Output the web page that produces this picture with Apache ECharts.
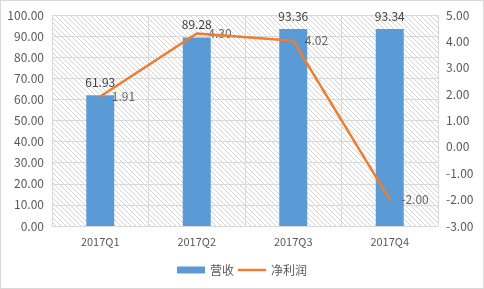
<!DOCTYPE html>
<html><head><meta charset="utf-8">
<script src="https://cdn.jsdelivr.net/npm/echarts@6/dist/echarts.min.js"></script>
<style>html,body{margin:0;padding:0;background:#fff}#c{width:484px;height:289px;box-sizing:border-box;border:1px solid #d9d9d9}</style>
</head><body><div id="c"></div>
<script>
var categories = ['2017Q1','2017Q2','2017Q3','2017Q4'];
var revenue = [61.93, 89.28, 93.36, 93.34];
var netProfit = [1.91, 4.30, 4.02, -2.00];
var seriesNames = ['营收','净利润'];

var pc = document.createElement('canvas');
pc.width = 5; pc.height = 5;
var ctx = pc.getContext('2d');
ctx.fillStyle = '#ffffff'; ctx.fillRect(0,0,5,5);
ctx.strokeStyle = '#d4d4d4'; ctx.lineWidth = 1;
ctx.beginPath();
ctx.moveTo(-5,0); ctx.lineTo(5,10);
ctx.moveTo(0,0); ctx.lineTo(5,5);
ctx.moveTo(0,-5); ctx.lineTo(10,5);
ctx.stroke();

var font = '"Noto Sans CJK SC", "Liberation Sans", sans-serif';
var fmt = function(p){return p.value.toFixed(2);};
var chart = echarts.init(document.getElementById('c'), null, {renderer:'canvas'});
chart.setOption({
  animation: false,
  textStyle: {fontFamily: font},
  grid: {left: 51, right: 45, top: 14, bottom: 62, show: true, backgroundColor: {image: pc, repeat: 'repeat'}, borderWidth: 0},
  legend: {bottom: 7, left: 'center', itemWidth: 28, itemHeight: 7, itemGap: 4, symbolKeepAspect: true,
    textStyle: {color: '#595959', fontSize: 12, fontFamily: font},
    data: [{name: seriesNames[0], icon: 'rect'},
           {name: seriesNames[1], icon: 'path://M0,0 L28,0 L28,2.5 L0,2.5 Z', itemStyle: {color: '#ED7D31'}}]},
  xAxis: {type: 'category', data: categories,
    axisLine: {lineStyle: {color: '#d9d9d9'}}, axisTick: {show: false},
    splitLine: {show: true, lineStyle: {color: '#d9d9d9'}},
    axisLabel: {color: '#595959', fontSize: 11, margin: 10}},
  yAxis: [
    {type: 'value', min: 0, max: 100, interval: 10,
     axisLabel: {color: '#595959', fontSize: 12, formatter: function(v){return v.toFixed(2);}, margin: 8},
     axisLine: {show: false}, axisTick: {show: false},
     splitLine: {lineStyle: {color: '#d9d9d9'}}},
    {type: 'value', min: -3, max: 5, interval: 1,
     axisLabel: {color: '#595959', fontSize: 12, formatter: function(v){return v.toFixed(2);}, margin: 8},
     axisLine: {show: false}, axisTick: {show: false}, splitLine: {show: false}}
  ],
  series: [
    {name: seriesNames[0], type: 'bar', data: revenue, barWidth: 28, itemStyle: {color: '#5B9BD5'},
     label: {show: true, position: 'top', color: '#404040', fontSize: 12, distance: 7, formatter: fmt}},
    {name: seriesNames[1], type: 'line', yAxisIndex: 1, data: netProfit, symbol: 'none',
     lineStyle: {color: '#ED7D31', width: 2.5}, itemStyle: {color: '#ED7D31'}},
    {name: 'profitLabels', type: 'scatter', yAxisIndex: 1, data: netProfit, symbolSize: 1,
     itemStyle: {color: 'rgba(0,0,0,0)'}, silent: true,
     label: {show: true, position: 'right', color: '#404040', fontSize: 12, distance: 11, formatter: fmt}}
  ]
});
</script></body></html>
